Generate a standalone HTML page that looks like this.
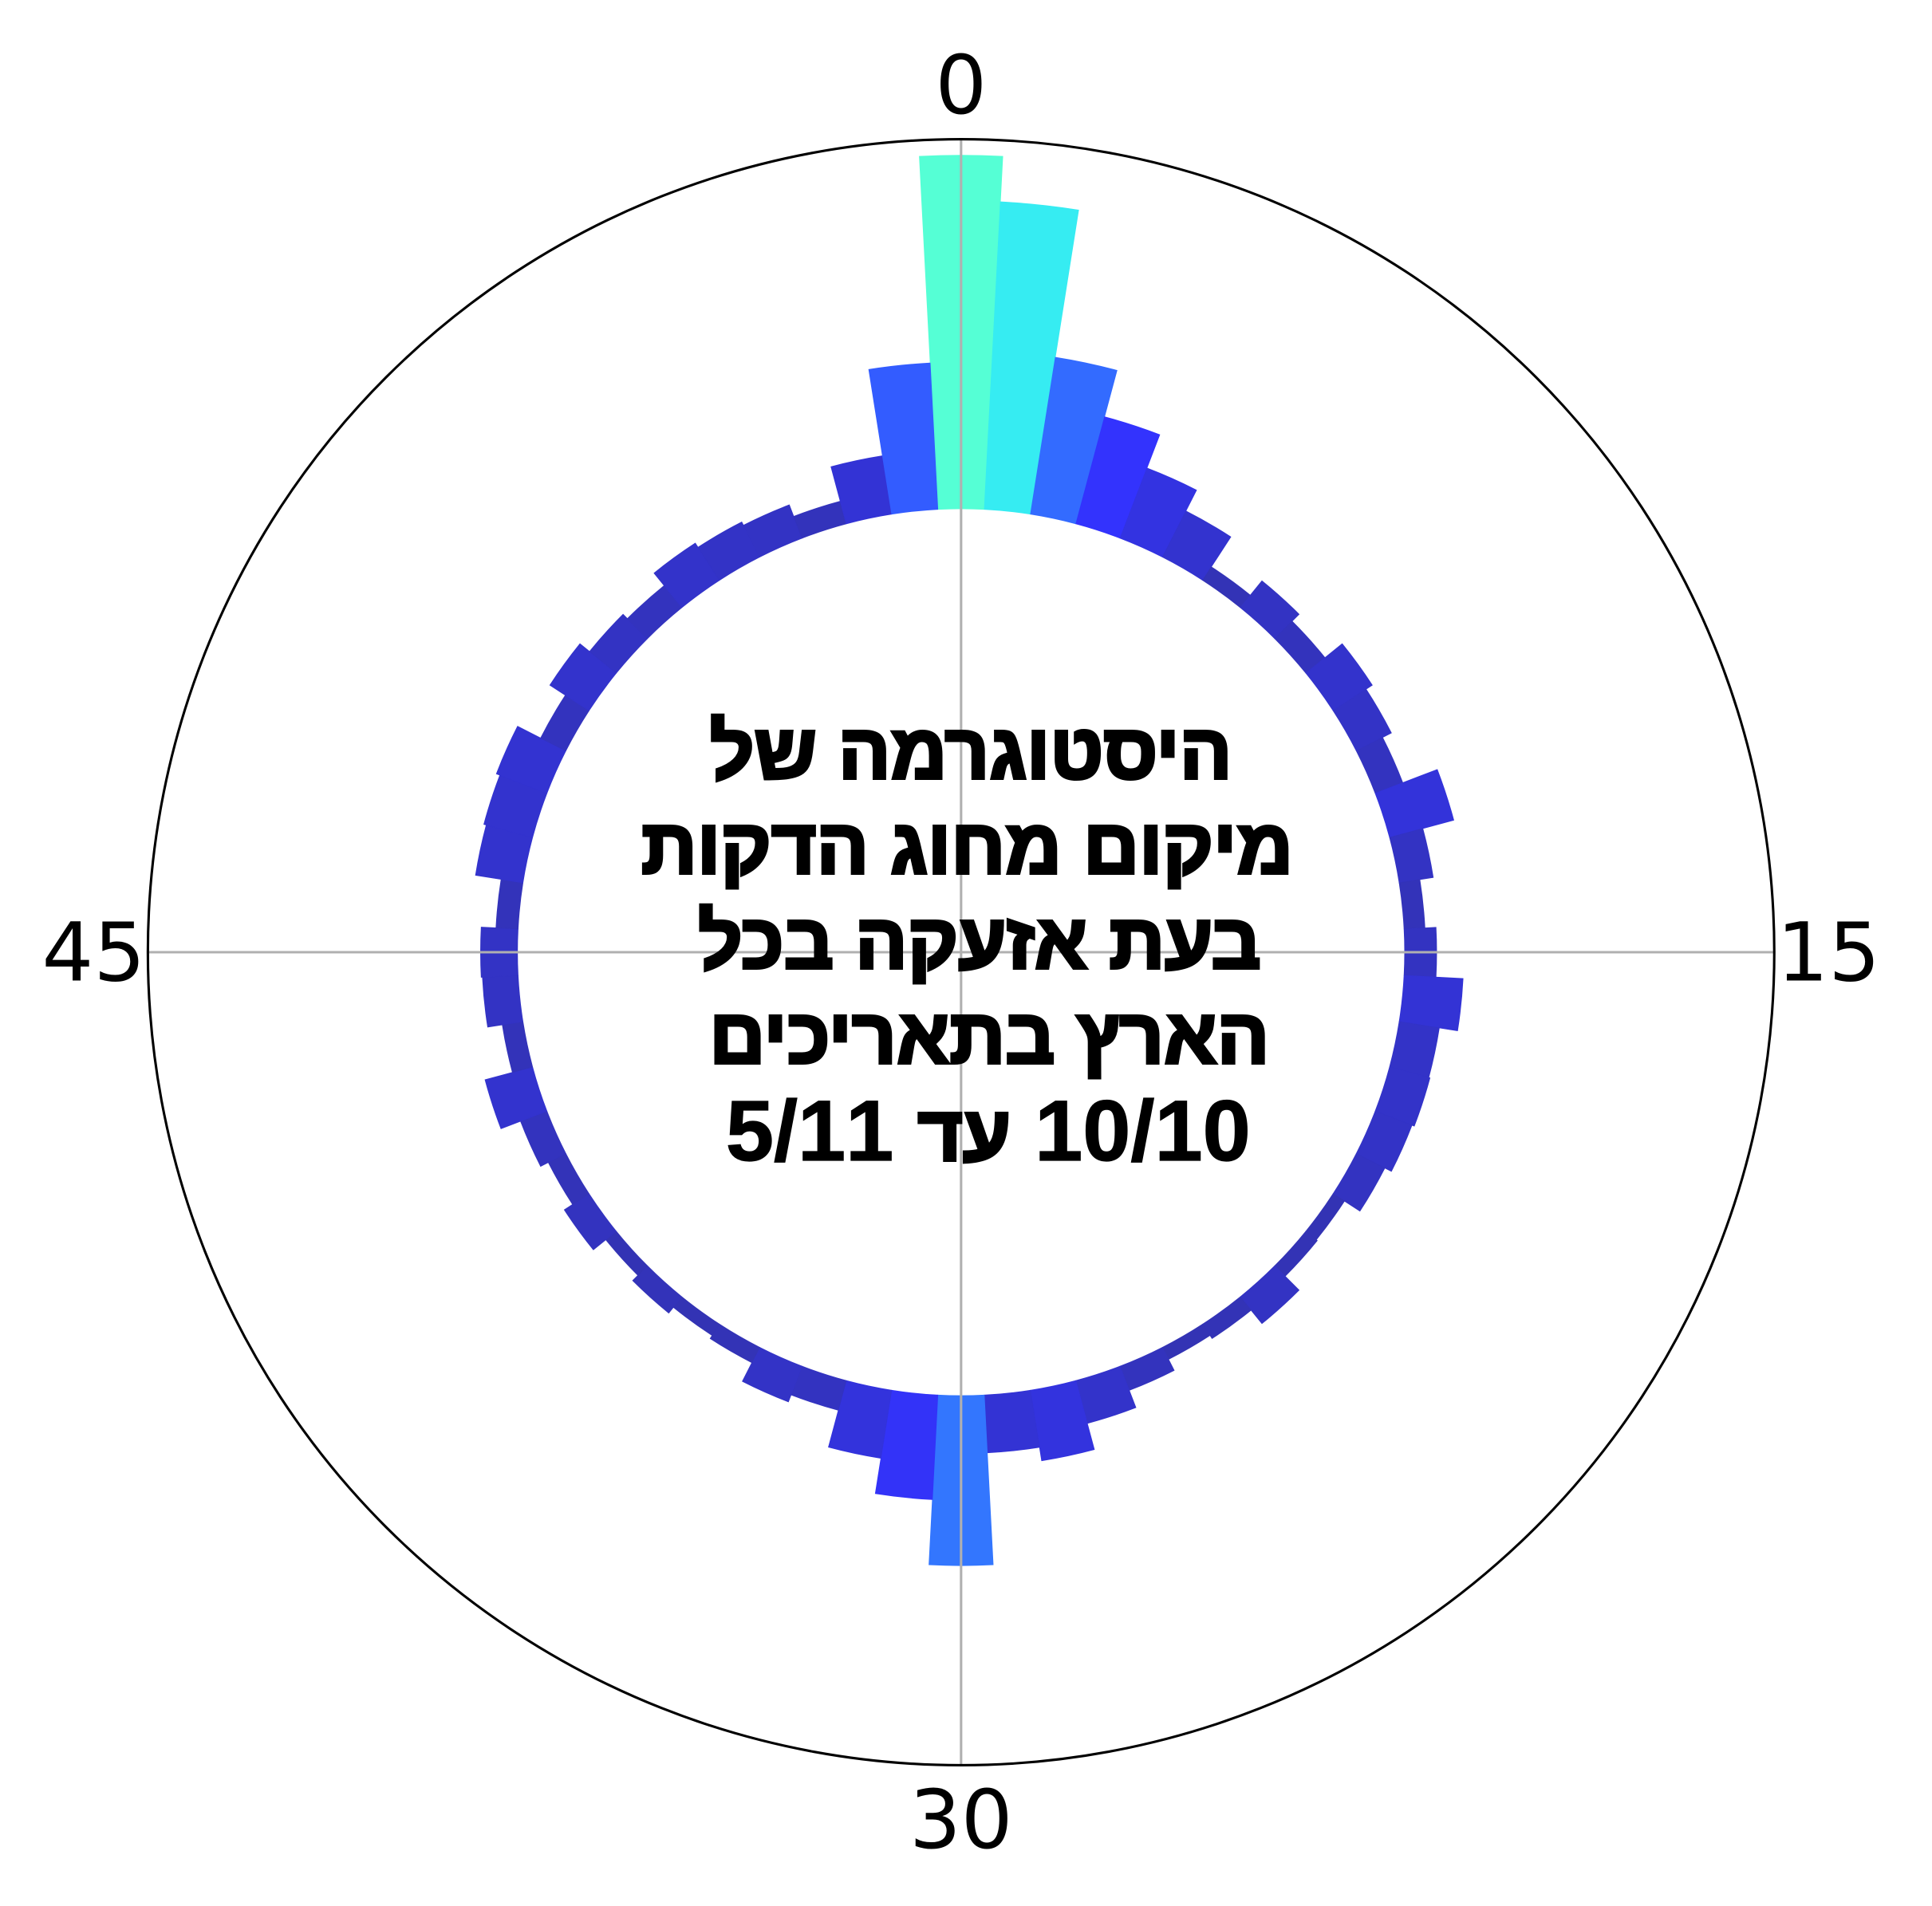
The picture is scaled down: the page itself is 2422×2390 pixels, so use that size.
<!DOCTYPE html>
<html><head><meta charset="utf-8">
<style>
html,body{margin:0;padding:0;background:#fff;}
svg{display:block;}
</style></head>
<body>
<svg id="chart" width="2422" height="2390" viewBox="0 0 1568 1547.3" xmlns="http://www.w3.org/2000/svg">
<rect width="1568" height="1547.3" fill="#fff"/>
<g id="bars"></g>
<g id="grid">
  <line x1="780" y1="113" x2="780" y2="1433" stroke="#b0b0b0" stroke-width="2"/>
  <line x1="120" y1="773" x2="1440" y2="773" stroke="#b0b0b0" stroke-width="2"/>
  <circle cx="780" cy="773" r="660" fill="none" stroke="#000" stroke-width="2"/>
</g>
<g id="ticks" font-family="'DejaVu Sans', 'Liberation Sans', sans-serif" font-size="66" fill="#000" text-anchor="middle"></g>
<g font-family="'Liberation Sans', 'DejaVu Sans', sans-serif" font-weight="bold" font-size="63" fill="#000" stroke="#000" stroke-width="2.6" text-anchor="middle">
  <text x="788" y="632" direction="rtl">היסטוגרמה של</text>
  <text x="785" y="709" direction="rtl">מיקום מחוג הדקות</text>
  <text x="795" y="786" direction="rtl">בעת אזעקה בכל</text>
  <text x="803" y="863" direction="rtl">הארץ בתאריכים</text>
  <text x="802" y="942" direction="rtl" font-size="70" stroke-width="0.8">10/10 <tspan font-size="63" stroke-width="2.6">עד</tspan> 5/11</text>
</g>
</svg>
<script>
const minutes = [0,1,2,3,4,5,6,7,8,9,10,11,12,13,14,15,16,17,18,19,20,21,22,23,24,25,26,27,28,29,30,31,32,33,34,35,36,37,38,39,40,41,42,43,44,45,46,47,48,49,50,51,52,53,54,55,56,57,58,59];
const counts = [287,250,129,90,61,42,13,28,20,38,32,24,54,28,17,26,48,33,34,32,26,11,12,28,14,11,21,36,58,47,138,85,56,25,31,14,11,17,11,24,16,23,40,17,29,30,18,39,41,44,23,38,28,23,36,32,29,19,48,119];
const tickValues = [0,15,30,45];
const tickLabels = ["0","15","30","45"];

const CX = 780, CY = 773, R0 = 360, RMAX = 660, VMAX = 300;
function rScale(v){ return R0 + v/VMAX*(RMAX-R0); }
function aScale(m){ return m/60*2*Math.PI; }
function pt(a,r){ return [CX + r*Math.sin(a), CY - r*Math.cos(a)]; }
function lerp(a,b,t){ return Math.round(a+(b-a)*t); }
const stops=[[0,[0x33,0x33,0xaa]],[0.2,[0x33,0x33,0xdd]],[0.32,[0x33,0x33,0xff]],[0.46,[0x33,0x70,0xff]],[0.86,[0x33,0xea,0xf5]],[1,[0x55,0xff,0xd5]]];
function color(v){
  const f = Math.max(0, Math.min(1, v/Math.max(...counts)));
  for(let i=1;i<stops.length;i++){
    if(f<=stops[i][0]){
      const t=(f-stops[i-1][0])/(stops[i][0]-stops[i-1][0]);
      const c=stops[i-1][1].map((x,k)=>lerp(x,stops[i][1][k],t));
      return `rgb(${c[0]},${c[1]},${c[2]})`;
    }
  }
  return 'rgb(85,255,213)';
}
const NS="http://www.w3.org/2000/svg";
const bars=document.getElementById('bars');
const half = Math.PI/60;
minutes.forEach((m,i)=>{
  const a=aScale(m), r1=rScale(counts[i]);
  const p1=pt(a-half,R0), p2=pt(a-half,r1), p3=pt(a+half,r1), p4=pt(a+half,R0);
  const d=`M${p1[0]},${p1[1]} L${p2[0]},${p2[1]} A${r1},${r1} 0 0 1 ${p3[0]},${p3[1]} L${p4[0]},${p4[1]} A${R0},${R0} 0 0 0 ${p1[0]},${p1[1]} Z`;
  const el=document.createElementNS(NS,'path');
  el.setAttribute('d',d);
  el.setAttribute('fill',color(counts[i]));
  el.setAttribute('stroke',color(counts[i]));
  el.setAttribute('stroke-width','0.5');
  
  
  bars.appendChild(el);
});
const ticks=document.getElementById('ticks');
tickValues.forEach((v,i)=>{
  const a=aScale(v);
  const p=pt(a, RMAX+44);
  const t=document.createElementNS(NS,'text');
  t.setAttribute('x',p[0]);
  t.setAttribute('y',p[1]+23);
  t.textContent=tickLabels[i];
  
  
  ticks.appendChild(t);
});
</script>
</body></html>
